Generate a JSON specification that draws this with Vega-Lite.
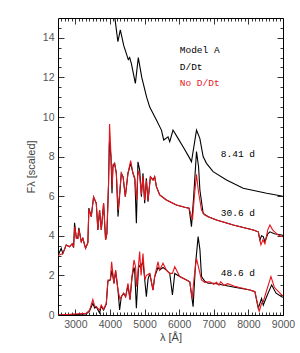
{
  "$schema": "https://vega.github.io/schema/vega-lite/v6.json",
  "width": 225,
  "height": 297,
  "autosize": "none",
  "padding": {"left": 58, "top": 18, "right": 17, "bottom": 38},
  "background": "white",
  "config": {
    "view": {"stroke": "#000", "strokeWidth": 1},
    "axis": {"grid": false, "domain": false, "tickColor": "#000", "tickWidth": 0.8, "labelOverlap": false, "labelFlush": false, "labelFont": "Liberation Sans", "labelFontSize": 10.5, "labelColor": "#555", "titleFont": "Liberation Sans", "titleFontWeight": "normal", "titleFontSize": 11, "titleColor": "#444"}
  },
  "datasets": {
    "top": [
      {"x": 4100, "y": 15.6}, {"x": 4230, "y": 13.8}, {"x": 4300, "y": 14.4}, {"x": 4400, "y": 13.6}, {"x": 4530, "y": 12.9}, {"x": 4570, "y": 13.0}, {"x": 4620, "y": 12.7}, {"x": 4735, "y": 11.7}, {"x": 4820, "y": 13.0}, {"x": 4920, "y": 12.0}, {"x": 5060, "y": 11.0}, {"x": 5150, "y": 10.5}, {"x": 5343, "y": 9.85}, {"x": 5488, "y": 9.34}, {"x": 5554, "y": 8.84}, {"x": 5679, "y": 9.0}, {"x": 5728, "y": 8.75}, {"x": 5823, "y": 9.34}, {"x": 5968, "y": 8.92}, {"x": 6113, "y": 8.5}, {"x": 6307, "y": 7.91}, {"x": 6356, "y": 7.74}, {"x": 6501, "y": 9.34}, {"x": 6597, "y": 8.92}, {"x": 6693, "y": 8.0}, {"x": 6790, "y": 7.66}, {"x": 6981, "y": 7.24}, {"x": 7369, "y": 6.82}, {"x": 7850, "y": 6.4}, {"x": 8527, "y": 6.15}, {"x": 8962, "y": 6.01}, {"x": 9000, "y": 6.0}
    ],
    "k": [
      {"s": "30.6", "x": 2500, "y": 3.0}, {"s": "30.6", "x": 2593, "y": 3.37}, {"s": "30.6", "x": 2639, "y": 3.1}, {"s": "30.6", "x": 2737, "y": 3.54}, {"s": "30.6", "x": 2833, "y": 3.45}, {"s": "30.6", "x": 2911, "y": 3.6}, {"s": "30.6", "x": 2950, "y": 3.4}, {"s": "30.6", "x": 2978, "y": 4.66}, {"s": "30.6", "x": 3030, "y": 3.9}, {"s": "30.6", "x": 3073, "y": 3.87}, {"s": "30.6", "x": 3102, "y": 4.4}, {"s": "30.6", "x": 3172, "y": 3.7}, {"s": "30.6", "x": 3218, "y": 3.87}, {"s": "30.6", "x": 3296, "y": 3.37}, {"s": "30.6", "x": 3363, "y": 3.65}, {"s": "30.6", "x": 3392, "y": 5.4}, {"s": "30.6", "x": 3461, "y": 4.97}, {"s": "30.6", "x": 3528, "y": 5.97}, {"s": "30.6", "x": 3606, "y": 5.64}, {"s": "30.6", "x": 3652, "y": 4.29}, {"s": "30.6", "x": 3701, "y": 5.3}, {"s": "30.6", "x": 3751, "y": 4.29}, {"s": "30.6", "x": 3817, "y": 5.64}, {"s": "30.6", "x": 3875, "y": 3.79}, {"s": "30.6", "x": 3913, "y": 4.12}, {"s": "30.6", "x": 3960, "y": 6.6}, {"s": "30.6", "x": 3985, "y": 8.75}, {"s": "30.6", "x": 4030, "y": 8.0}, {"s": "30.6", "x": 4060, "y": 6.15}, {"s": "30.6", "x": 4087, "y": 7.5}, {"s": "30.6", "x": 4136, "y": 7.66}, {"s": "30.6", "x": 4185, "y": 7.16}, {"s": "30.6", "x": 4233, "y": 4.97}, {"s": "30.6", "x": 4329, "y": 7.16}, {"s": "30.6", "x": 4380, "y": 6.98}, {"s": "30.6", "x": 4445, "y": 5.97}, {"s": "30.6", "x": 4521, "y": 7.16}, {"s": "30.6", "x": 4599, "y": 7.66}, {"s": "30.6", "x": 4666, "y": 7.16}, {"s": "30.6", "x": 4720, "y": 6.9}, {"s": "30.6", "x": 4764, "y": 4.63}, {"s": "30.6", "x": 4810, "y": 7.74}, {"s": "30.6", "x": 4860, "y": 7.32}, {"s": "30.6", "x": 4909, "y": 5.97}, {"s": "30.6", "x": 4955, "y": 7.16}, {"s": "30.6", "x": 5004, "y": 5.64}, {"s": "30.6", "x": 5053, "y": 6.9}, {"s": "30.6", "x": 5100, "y": 5.72}, {"s": "30.6", "x": 5169, "y": 6.98}, {"s": "30.6", "x": 5245, "y": 6.82}, {"s": "30.6", "x": 5293, "y": 6.98}, {"s": "30.6", "x": 5343, "y": 6.48}, {"s": "30.6", "x": 5438, "y": 6.06}, {"s": "30.6", "x": 5631, "y": 5.81}, {"s": "30.6", "x": 5921, "y": 5.56}, {"s": "30.6", "x": 6162, "y": 5.44}, {"s": "30.6", "x": 6287, "y": 5.39}, {"s": "30.6", "x": 6356, "y": 4.46}, {"s": "30.6", "x": 6420, "y": 6.0}, {"s": "30.6", "x": 6501, "y": 8.25}, {"s": "30.6", "x": 6560, "y": 7.5}, {"s": "30.6", "x": 6600, "y": 6.3}, {"s": "30.6", "x": 6693, "y": 5.13}, {"s": "30.6", "x": 6838, "y": 4.96}, {"s": "30.6", "x": 7079, "y": 4.8}, {"s": "30.6", "x": 7562, "y": 4.55}, {"s": "30.6", "x": 8141, "y": 4.29}, {"s": "30.6", "x": 8286, "y": 4.2}, {"s": "30.6", "x": 8333, "y": 3.79}, {"s": "30.6", "x": 8380, "y": 4.0}, {"s": "30.6", "x": 8430, "y": 3.96}, {"s": "30.6", "x": 8478, "y": 3.7}, {"s": "30.6", "x": 8560, "y": 4.1}, {"s": "30.6", "x": 8623, "y": 4.2}, {"s": "30.6", "x": 8750, "y": 4.1}, {"s": "30.6", "x": 8962, "y": 4.04}, {"s": "30.6", "x": 9000, "y": 4.02},
      {"s": "48.6", "x": 2500, "y": 0.0}, {"s": "48.6", "x": 3028, "y": 0.03}, {"s": "48.6", "x": 3316, "y": 0.05}, {"s": "48.6", "x": 3412, "y": 0.2}, {"s": "48.6", "x": 3507, "y": 0.59}, {"s": "48.6", "x": 3560, "y": 0.35}, {"s": "48.6", "x": 3606, "y": 0.42}, {"s": "48.6", "x": 3701, "y": 0.1}, {"s": "48.6", "x": 3751, "y": 0.45}, {"s": "48.6", "x": 3817, "y": 0.25}, {"s": "48.6", "x": 3895, "y": 0.55}, {"s": "48.6", "x": 3942, "y": 1.7}, {"s": "48.6", "x": 4011, "y": 1.77}, {"s": "48.6", "x": 4060, "y": 2.27}, {"s": "48.6", "x": 4116, "y": 1.6}, {"s": "48.6", "x": 4165, "y": 2.2}, {"s": "48.6", "x": 4233, "y": 1.26}, {"s": "48.6", "x": 4280, "y": 0.25}, {"s": "48.6", "x": 4329, "y": 0.92}, {"s": "48.6", "x": 4396, "y": 1.1}, {"s": "48.6", "x": 4454, "y": 0.92}, {"s": "48.6", "x": 4521, "y": 1.5}, {"s": "48.6", "x": 4580, "y": 0.8}, {"s": "48.6", "x": 4637, "y": 1.9}, {"s": "48.6", "x": 4695, "y": 2.4}, {"s": "48.6", "x": 4715, "y": 2.27}, {"s": "48.6", "x": 4764, "y": 0.34}, {"s": "48.6", "x": 4830, "y": 2.53}, {"s": "48.6", "x": 4880, "y": 2.4}, {"s": "48.6", "x": 4955, "y": 2.7}, {"s": "48.6", "x": 5053, "y": 0.92}, {"s": "48.6", "x": 5100, "y": 1.8}, {"s": "48.6", "x": 5150, "y": 2.1}, {"s": "48.6", "x": 5245, "y": 1.26}, {"s": "48.6", "x": 5293, "y": 1.94}, {"s": "48.6", "x": 5390, "y": 2.4}, {"s": "48.6", "x": 5438, "y": 2.27}, {"s": "48.6", "x": 5534, "y": 2.4}, {"s": "48.6", "x": 5631, "y": 2.27}, {"s": "48.6", "x": 5728, "y": 2.1}, {"s": "48.6", "x": 5806, "y": 1.01}, {"s": "48.6", "x": 5873, "y": 2.1}, {"s": "48.6", "x": 6017, "y": 1.94}, {"s": "48.6", "x": 6211, "y": 1.77}, {"s": "48.6", "x": 6307, "y": 1.68}, {"s": "48.6", "x": 6403, "y": 0.42}, {"s": "48.6", "x": 6470, "y": 2.5}, {"s": "48.6", "x": 6548, "y": 3.96}, {"s": "48.6", "x": 6600, "y": 3.3}, {"s": "48.6", "x": 6646, "y": 1.94}, {"s": "48.6", "x": 6740, "y": 1.7}, {"s": "48.6", "x": 6838, "y": 1.6}, {"s": "48.6", "x": 7000, "y": 1.6}, {"s": "48.6", "x": 7300, "y": 1.5}, {"s": "48.6", "x": 7600, "y": 1.4}, {"s": "48.6", "x": 8044, "y": 1.26}, {"s": "48.6", "x": 8188, "y": 1.18}, {"s": "48.6", "x": 8285, "y": 0.34}, {"s": "48.6", "x": 8381, "y": 0.84}, {"s": "48.6", "x": 8430, "y": 0.5}, {"s": "48.6", "x": 8520, "y": 0.9}, {"s": "48.6", "x": 8671, "y": 1.52}, {"s": "48.6", "x": 8800, "y": 1.1}, {"s": "48.6", "x": 8962, "y": 0.92}, {"s": "48.6", "x": 9000, "y": 0.9}
    ],
    "r": [
      {"s": "30.6", "x": 2500, "y": 3.0}, {"s": "30.6", "x": 2639, "y": 3.1}, {"s": "30.6", "x": 2737, "y": 3.54}, {"s": "30.6", "x": 2833, "y": 3.45}, {"s": "30.6", "x": 2911, "y": 3.59}, {"s": "30.6", "x": 2950, "y": 3.42}, {"s": "30.6", "x": 2985, "y": 4.46}, {"s": "30.6", "x": 3030, "y": 3.87}, {"s": "30.6", "x": 3073, "y": 3.87}, {"s": "30.6", "x": 3102, "y": 4.33}, {"s": "30.6", "x": 3172, "y": 3.7}, {"s": "30.6", "x": 3218, "y": 3.87}, {"s": "30.6", "x": 3296, "y": 3.37}, {"s": "30.6", "x": 3363, "y": 3.65}, {"s": "30.6", "x": 3392, "y": 5.34}, {"s": "30.6", "x": 3461, "y": 4.97}, {"s": "30.6", "x": 3528, "y": 5.97}, {"s": "30.6", "x": 3606, "y": 5.64}, {"s": "30.6", "x": 3652, "y": 4.29}, {"s": "30.6", "x": 3701, "y": 5.3}, {"s": "30.6", "x": 3751, "y": 4.29}, {"s": "30.6", "x": 3817, "y": 5.64}, {"s": "30.6", "x": 3875, "y": 3.79}, {"s": "30.6", "x": 3913, "y": 4.12}, {"s": "30.6", "x": 3960, "y": 6.65}, {"s": "30.6", "x": 3990, "y": 9.65}, {"s": "30.6", "x": 4030, "y": 8.1}, {"s": "30.6", "x": 4065, "y": 6.48}, {"s": "30.6", "x": 4087, "y": 7.6}, {"s": "30.6", "x": 4136, "y": 7.66}, {"s": "30.6", "x": 4185, "y": 7.16}, {"s": "30.6", "x": 4240, "y": 5.3}, {"s": "30.6", "x": 4329, "y": 7.16}, {"s": "30.6", "x": 4380, "y": 6.98}, {"s": "30.6", "x": 4445, "y": 5.97}, {"s": "30.6", "x": 4521, "y": 7.16}, {"s": "30.6", "x": 4599, "y": 7.8}, {"s": "30.6", "x": 4666, "y": 7.16}, {"s": "30.6", "x": 4720, "y": 6.82}, {"s": "30.6", "x": 4770, "y": 5.81}, {"s": "30.6", "x": 4810, "y": 7.3}, {"s": "30.6", "x": 4860, "y": 7.0}, {"s": "30.6", "x": 4909, "y": 6.1}, {"s": "30.6", "x": 4955, "y": 7.0}, {"s": "30.6", "x": 5004, "y": 5.8}, {"s": "30.6", "x": 5053, "y": 6.8}, {"s": "30.6", "x": 5100, "y": 5.8}, {"s": "30.6", "x": 5169, "y": 6.98}, {"s": "30.6", "x": 5245, "y": 6.82}, {"s": "30.6", "x": 5293, "y": 6.98}, {"s": "30.6", "x": 5343, "y": 6.48}, {"s": "30.6", "x": 5438, "y": 6.06}, {"s": "30.6", "x": 5631, "y": 5.81}, {"s": "30.6", "x": 5921, "y": 5.56}, {"s": "30.6", "x": 6162, "y": 5.44}, {"s": "30.6", "x": 6287, "y": 5.39}, {"s": "30.6", "x": 6385, "y": 4.8}, {"s": "30.6", "x": 6440, "y": 6.0}, {"s": "30.6", "x": 6500, "y": 7.1}, {"s": "30.6", "x": 6560, "y": 6.2}, {"s": "30.6", "x": 6646, "y": 5.3}, {"s": "30.6", "x": 6738, "y": 5.05}, {"s": "30.6", "x": 6838, "y": 4.96}, {"s": "30.6", "x": 7079, "y": 4.8}, {"s": "30.6", "x": 7562, "y": 4.55}, {"s": "30.6", "x": 8141, "y": 4.29}, {"s": "30.6", "x": 8286, "y": 4.2}, {"s": "30.6", "x": 8362, "y": 3.54}, {"s": "30.6", "x": 8420, "y": 3.8}, {"s": "30.6", "x": 8478, "y": 3.6}, {"s": "30.6", "x": 8560, "y": 4.3}, {"s": "30.6", "x": 8623, "y": 4.55}, {"s": "30.6", "x": 8700, "y": 4.3}, {"s": "30.6", "x": 8850, "y": 4.05}, {"s": "30.6", "x": 8962, "y": 3.96}, {"s": "30.6", "x": 9000, "y": 3.95},
      {"s": "48.6", "x": 2500, "y": 0.0}, {"s": "48.6", "x": 3028, "y": 0.05}, {"s": "48.6", "x": 3316, "y": 0.08}, {"s": "48.6", "x": 3412, "y": 0.25}, {"s": "48.6", "x": 3507, "y": 0.79}, {"s": "48.6", "x": 3560, "y": 0.45}, {"s": "48.6", "x": 3606, "y": 0.42}, {"s": "48.6", "x": 3701, "y": 0.25}, {"s": "48.6", "x": 3751, "y": 0.5}, {"s": "48.6", "x": 3817, "y": 0.29}, {"s": "48.6", "x": 3895, "y": 0.59}, {"s": "48.6", "x": 3942, "y": 1.77}, {"s": "48.6", "x": 4011, "y": 1.77}, {"s": "48.6", "x": 4049, "y": 2.69}, {"s": "48.6", "x": 4116, "y": 1.6}, {"s": "48.6", "x": 4165, "y": 2.27}, {"s": "48.6", "x": 4233, "y": 1.26}, {"s": "48.6", "x": 4290, "y": 0.8}, {"s": "48.6", "x": 4329, "y": 0.92}, {"s": "48.6", "x": 4396, "y": 1.1}, {"s": "48.6", "x": 4454, "y": 0.92}, {"s": "48.6", "x": 4521, "y": 1.6}, {"s": "48.6", "x": 4580, "y": 0.76}, {"s": "48.6", "x": 4637, "y": 1.94}, {"s": "48.6", "x": 4695, "y": 2.78}, {"s": "48.6", "x": 4740, "y": 2.44}, {"s": "48.6", "x": 4775, "y": 1.43}, {"s": "48.6", "x": 4859, "y": 3.2}, {"s": "48.6", "x": 4900, "y": 2.0}, {"s": "48.6", "x": 4955, "y": 3.1}, {"s": "48.6", "x": 5010, "y": 1.77}, {"s": "48.6", "x": 5053, "y": 2.0}, {"s": "48.6", "x": 5150, "y": 2.1}, {"s": "48.6", "x": 5245, "y": 1.26}, {"s": "48.6", "x": 5293, "y": 1.94}, {"s": "48.6", "x": 5390, "y": 2.69}, {"s": "48.6", "x": 5438, "y": 2.27}, {"s": "48.6", "x": 5534, "y": 2.61}, {"s": "48.6", "x": 5631, "y": 2.27}, {"s": "48.6", "x": 5728, "y": 2.1}, {"s": "48.6", "x": 5806, "y": 2.1}, {"s": "48.6", "x": 5873, "y": 2.44}, {"s": "48.6", "x": 6017, "y": 1.94}, {"s": "48.6", "x": 6211, "y": 1.77}, {"s": "48.6", "x": 6307, "y": 1.68}, {"s": "48.6", "x": 6374, "y": 0.84}, {"s": "48.6", "x": 6440, "y": 2.0}, {"s": "48.6", "x": 6500, "y": 2.86}, {"s": "48.6", "x": 6560, "y": 2.4}, {"s": "48.6", "x": 6646, "y": 1.77}, {"s": "48.6", "x": 6740, "y": 1.65}, {"s": "48.6", "x": 6886, "y": 1.68}, {"s": "48.6", "x": 7000, "y": 1.55}, {"s": "48.6", "x": 7080, "y": 1.65}, {"s": "48.6", "x": 7150, "y": 1.5}, {"s": "48.6", "x": 7200, "y": 1.68}, {"s": "48.6", "x": 7300, "y": 1.5}, {"s": "48.6", "x": 7400, "y": 1.58}, {"s": "48.6", "x": 7600, "y": 1.45}, {"s": "48.6", "x": 8044, "y": 1.26}, {"s": "48.6", "x": 8188, "y": 1.18}, {"s": "48.6", "x": 8314, "y": 0.17}, {"s": "48.6", "x": 8381, "y": 0.6}, {"s": "48.6", "x": 8430, "y": 0.67}, {"s": "48.6", "x": 8520, "y": 1.2}, {"s": "48.6", "x": 8652, "y": 1.94}, {"s": "48.6", "x": 8750, "y": 1.4}, {"s": "48.6", "x": 8962, "y": 1.01}, {"s": "48.6", "x": 9000, "y": 1.0}
    ],
    "legend": [
      {"x": 6017, "y": 13.38, "txt": "Model A", "m": "D/Dt"},
      {"x": 6017, "y": 12.54, "txt": "D/Dt", "m": "D/Dt"},
      {"x": 6017, "y": 11.7, "txt": "No D/Dt", "m": "No D/Dt"}
    ],
    "epochs": [
      {"x": 7204, "y": 8.11, "txt": "8.41 d"},
      {"x": 7204, "y": 5.13, "txt": "30.6 d"},
      {"x": 7204, "y": 2.1, "txt": "48.6 d"}
    ]
  },
  "resolve": {"axis": {"x": "independent", "y": "independent"}},
  "layer": [
    {
      "data": {"name": "top"},
      "mark": {"type": "line", "color": "#000", "strokeWidth": 1.1, "clip": true},
      "encoding": {
        "x": {"field": "x", "type": "quantitative", "scale": {"domain": [2500, 9000], "nice": false, "zero": false},
              "axis": {"orient": "bottom", "values": [3000, 4000, 5000, 6000, 7000, 8000, 9000], "tickSize": -6, "labelPadding": 10, "title": "λ [Å]", "titlePadding": 2, "format": "d"}},
        "y": {"field": "y", "type": "quantitative", "scale": {"domain": [0, 15], "nice": false, "zero": false},
              "axis": {"orient": "left", "values": [0, 2, 4, 6, 8, 10, 12, 14], "tickSize": -6, "labelPadding": 10, "title": "Fλ [scaled]", "titlePadding": 6}}
      }
    },
    {
      "data": {"name": "k"},
      "mark": {"type": "line", "color": "#000", "strokeWidth": 1.1, "clip": true},
      "encoding": {
        "detail": {"field": "s"},
        "x": {"field": "x", "type": "quantitative", "scale": {"domain": [2500, 9000], "nice": false, "zero": false},
              "axis": {"orient": "bottom", "values": [2600, 2700, 2800, 2900, 3100, 3200, 3300, 3400, 3500, 3600, 3700, 3800, 3900, 4100, 4200, 4300, 4400, 4500, 4600, 4700, 4800, 4900, 5100, 5200, 5300, 5400, 5500, 5600, 5700, 5800, 5900, 6100, 6200, 6300, 6400, 6500, 6600, 6700, 6800, 6900, 7100, 7200, 7300, 7400, 7500, 7600, 7700, 7800, 7900, 8100, 8200, 8300, 8400, 8500, 8600, 8700, 8800, 8900], "tickSize": -3, "labels": false, "title": null}},
        "y": {"field": "y", "type": "quantitative", "scale": {"domain": [0, 15], "nice": false, "zero": false},
              "axis": {"orient": "left", "values": [0.5, 1, 1.5, 2.5, 3, 3.5, 4.5, 5, 5.5, 6.5, 7, 7.5, 8.5, 9, 9.5, 10.5, 11, 11.5, 12.5, 13, 13.5, 14.5], "tickSize": -3, "labels": false, "title": null}}
      }
    },
    {
      "data": {"name": "r"},
      "mark": {"type": "line", "color": "#e8141c", "strokeWidth": 1.1, "clip": true},
      "encoding": {
        "detail": {"field": "s"},
        "x": {"field": "x", "type": "quantitative", "scale": {"domain": [2500, 9000], "nice": false, "zero": false},
              "axis": {"orient": "top", "values": [3000, 4000, 5000, 6000, 7000, 8000, 9000], "tickSize": -6, "labels": false, "title": null}},
        "y": {"field": "y", "type": "quantitative", "scale": {"domain": [0, 15], "nice": false, "zero": false},
              "axis": {"orient": "right", "values": [0, 2, 4, 6, 8, 10, 12, 14], "tickSize": -6, "labels": false, "title": null}}
      }
    },
    {
      "data": {"name": "legend"},
      "mark": {"type": "text", "align": "left", "baseline": "middle", "font": "Liberation Mono", "fontSize": 9.5},
      "encoding": {
        "x": {"field": "x", "type": "quantitative", "scale": {"domain": [2500, 9000], "nice": false, "zero": false},
              "axis": {"orient": "top", "values": [2600, 2700, 2800, 2900, 3100, 3200, 3300, 3400, 3500, 3600, 3700, 3800, 3900, 4100, 4200, 4300, 4400, 4500, 4600, 4700, 4800, 4900, 5100, 5200, 5300, 5400, 5500, 5600, 5700, 5800, 5900, 6100, 6200, 6300, 6400, 6500, 6600, 6700, 6800, 6900, 7100, 7200, 7300, 7400, 7500, 7600, 7700, 7800, 7900, 8100, 8200, 8300, 8400, 8500, 8600, 8700, 8800, 8900], "tickSize": -3, "labels": false, "title": null}},
        "y": {"field": "y", "type": "quantitative", "scale": {"domain": [0, 15], "nice": false, "zero": false},
              "axis": {"orient": "right", "values": [0.5, 1, 1.5, 2.5, 3, 3.5, 4.5, 5, 5.5, 6.5, 7, 7.5, 8.5, 9, 9.5, 10.5, 11, 11.5, 12.5, 13, 13.5, 14.5], "tickSize": -3, "labels": false, "title": null}},
        "text": {"field": "txt"},
        "color": {"field": "m", "type": "nominal", "scale": {"domain": ["D/Dt", "No D/Dt"], "range": ["#000000", "#e8141c"]}, "legend": null}
      }
    },
    {
      "data": {"name": "epochs"},
      "mark": {"type": "text", "align": "left", "baseline": "middle", "font": "Liberation Mono", "fontSize": 9.5, "color": "#000"},
      "encoding": {
        "x": {"field": "x", "type": "quantitative", "scale": {"domain": [2500, 9000], "nice": false, "zero": false}, "axis": null},
        "y": {"field": "y", "type": "quantitative", "scale": {"domain": [0, 15], "nice": false, "zero": false}, "axis": null},
        "text": {"field": "txt"}
      }
    }
  ]
}
